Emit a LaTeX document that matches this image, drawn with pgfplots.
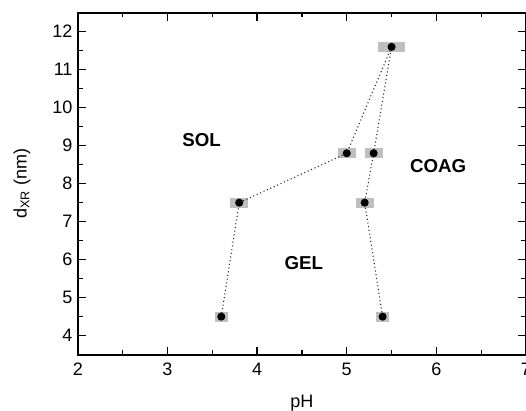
\documentclass[border=0pt]{standalone}
\usepackage{pgfplots}
\pgfplotsset{compat=1.18}
\usepackage{fontspec}
\setmainfont{Liberation Sans}
\begin{document}
\begin{tikzpicture}
\begin{axis}[
  width=335.5pt, height=256pt, scale only axis,
  xmin=2, xmax=7, ymin=3.5, ymax=12.5,
  xtick={2,3,4,5,6,7}, ytick={4,5,6,7,8,9,10,11,12},
  minor x tick num=1, minor y tick num=1,
  tick align=inside, tick pos=both,
  major tick length=6pt, minor tick length=3.5pt,
  every tick/.style={black, line width=1pt},
  axis line style={line width=1.3pt},
  /pgf/number format/assume math mode=true,
  tick label style={font=\fontsize{13.5}{15}\selectfont},
  xticklabel style={yshift=-2.5pt},
  yticklabel style={xshift=-0.5pt},
  xlabel={pH}, ylabel={d\textsubscript{XR} (nm)},
  label style={font=\fontsize{13.5}{15}\selectfont},
  xlabel style={at={(axis description cs:0.5,-0.1406)}, anchor=center},
  ylabel style={at={(axis description cs:-0.125,0.5)}, anchor=center},
  clip=false,
]
% gray uncertainty boxes
\addplot[only marks, mark=none,
  error bars/.cd, x dir=both, x explicit, error mark=none,
  error bar style={draw=black!25, solid, line width=7.5pt}]
  table[x=x, y=y, x error=e] {
  x   y    e
  3.6 4.5  0.075
  3.8 7.5  0.1
  5.0 8.8  0.1
  5.5 11.6 0.15
  5.3 8.8  0.1
  5.2 7.5  0.1
  5.4 4.5  0.07
};
% dotted boundary line with points
\addplot[black!85, dotted, line width=0.8pt, mark=*, mark size=2.6pt,
  mark options={solid, fill=black, draw=black}]
  table {
  3.6 4.5
  3.8 7.5
  5.0 8.8
  5.5 11.6
  5.3 8.8
  5.2 7.5
  5.4 4.5
};
\node[font=\bfseries\fontsize{14}{16}\selectfont] at (axis cs:3.38,9.16) {SOL};
\node[font=\bfseries\fontsize{14}{16}\selectfont] at (axis cs:6.02,8.47) {COAG};
\node[font=\bfseries\fontsize{14}{16}\selectfont] at (axis cs:4.52,5.92) {GEL};
\end{axis}
\pgfresetboundingbox
\path[use as bounding box] ([xshift=-58.3pt,yshift=-42pt]current axis.south west) rectangle ([xshift=0pt,yshift=9.5pt]current axis.north east);
\end{tikzpicture}
\end{document}
